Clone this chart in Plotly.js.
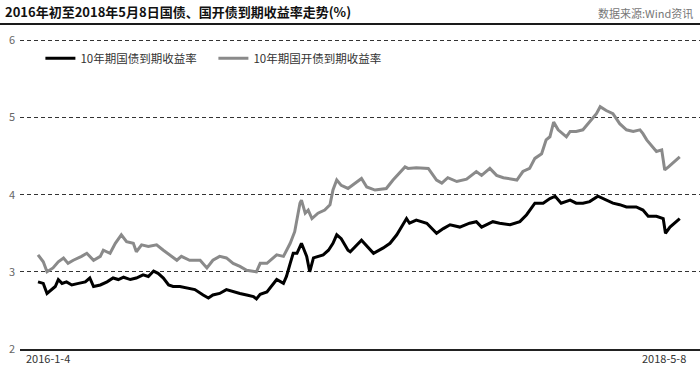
<!DOCTYPE html>
<html>
<head>
<meta charset="utf-8">
<script src="https://cdn.plot.ly/plotly-3.0.1.min.js"></script>
<style>html,body{margin:0;padding:0;background:#fff;}#chart{width:700px;height:371px;}</style>
</head>
<body>
<div id="chart"></div>
<script>
// 10-year government bond yield (%)
const cgbDates = ['2016-01-04','2016-01-11','2016-01-16','2016-01-22','2016-01-27','2016-01-31','2016-02-05','2016-02-11','2016-02-18','2016-02-27',
'2016-03-07','2016-03-13','2016-03-18','2016-03-27','2016-04-05','2016-04-13','2016-04-20','2016-04-27','2016-05-06','2016-05-14',
'2016-05-23','2016-05-30','2016-06-06','2016-06-12','2016-06-19','2016-06-26','2016-07-02','2016-07-11','2016-07-20','2016-07-31',
'2016-08-11','2016-08-18','2016-08-24','2016-09-02','2016-09-11','2016-09-20','2016-09-29','2016-10-08','2016-10-17','2016-10-21',
'2016-10-26','2016-11-04','2016-11-10','2016-11-17','2016-11-26','2016-11-30','2016-12-05','2016-12-09','2016-12-14','2016-12-20',
'2016-12-27','2016-12-31','2017-01-05','2017-01-11','2017-01-18','2017-01-25','2017-01-31','2017-02-05','2017-02-11','2017-02-20',
'2017-02-23','2017-03-10','2017-03-17','2017-03-26','2017-04-08','2017-04-17','2017-04-26','2017-05-09','2017-05-13','2017-05-22',
'2017-06-05','2017-06-18','2017-06-27','2017-07-06','2017-07-19','2017-08-01','2017-08-10','2017-08-17','2017-09-01','2017-09-10',
'2017-09-24','2017-10-07','2017-10-16','2017-10-27','2017-11-07','2017-11-16','2017-11-23','2017-12-01','2017-12-13','2017-12-21',
'2017-12-30','2018-01-08','2018-01-19','2018-01-26','2018-02-08','2018-02-17','2018-02-26','2018-03-11','2018-03-20','2018-03-27',
'2018-04-07','2018-04-16','2018-04-19','2018-04-25','2018-05-01','2018-05-08'];
const cgbYield = [2.87,2.85,2.72,2.77,2.81,2.90,2.85,2.87,2.83,2.85,
2.87,2.92,2.81,2.83,2.87,2.92,2.90,2.93,2.90,2.92,
2.96,2.94,3.01,2.98,2.92,2.83,2.81,2.81,2.79,2.77,
2.70,2.66,2.70,2.72,2.77,2.74,2.72,2.70,2.68,2.65,
2.71,2.74,2.81,2.90,2.85,2.94,3.11,3.24,3.24,3.37,
3.20,3.00,3.18,3.20,3.22,3.28,3.37,3.48,3.43,3.28,
3.26,3.41,3.33,3.24,3.31,3.37,3.48,3.69,3.63,3.67,
3.63,3.50,3.56,3.61,3.58,3.63,3.65,3.58,3.65,3.63,
3.61,3.65,3.74,3.89,3.89,3.95,3.98,3.89,3.93,3.89,
3.89,3.91,3.98,3.95,3.89,3.87,3.84,3.84,3.80,3.72,
3.72,3.69,3.50,3.58,3.63,3.69];

// 10-year China Development Bank bond yield (%)
const cdbDates = ['2016-01-04','2016-01-11','2016-01-16','2016-01-24','2016-01-31','2016-02-07','2016-02-13','2016-02-20','2016-03-02','2016-03-09',
'2016-03-18','2016-03-27','2016-03-31','2016-04-09','2016-04-16','2016-04-24','2016-05-01','2016-05-10','2016-05-14','2016-05-21',
'2016-05-30','2016-06-10','2016-06-19','2016-06-28','2016-07-07','2016-07-13','2016-07-24','2016-08-07','2016-08-16','2016-08-24',
'2016-09-02','2016-09-11','2016-09-20','2016-09-29','2016-10-08','2016-10-21','2016-10-26','2016-11-04','2016-11-17','2016-11-26',
'2016-12-05','2016-12-11','2016-12-18','2016-12-20','2016-12-25','2016-12-29','2017-01-03','2017-01-11','2017-01-20','2017-01-27',
'2017-01-31','2017-02-05','2017-02-11','2017-02-20','2017-03-10','2017-03-17','2017-03-28','2017-04-12','2017-04-21','2017-05-07',
'2017-05-11','2017-05-22','2017-06-07','2017-06-18','2017-06-25','2017-07-03','2017-07-15','2017-07-28','2017-08-10','2017-08-17',
'2017-08-28','2017-09-06','2017-09-15','2017-10-03','2017-10-11','2017-10-20','2017-10-27','2017-11-05','2017-11-11','2017-11-16',
'2017-11-21','2017-11-27','2017-12-08','2017-12-13','2017-12-21','2017-12-30','2018-01-06','2018-01-17','2018-01-22','2018-01-30',
'2018-02-08','2018-02-17','2018-02-26','2018-03-07','2018-03-16','2018-03-20','2018-03-25','2018-03-31','2018-04-07','2018-04-14',
'2018-04-18','2018-04-23','2018-05-01','2018-05-08'];
const cdbYield = [3.22,3.13,3.00,3.05,3.13,3.18,3.11,3.15,3.20,3.24,
3.15,3.20,3.28,3.24,3.37,3.48,3.39,3.37,3.26,3.35,
3.33,3.35,3.28,3.22,3.15,3.20,3.15,3.15,3.05,3.15,
3.20,3.18,3.11,3.07,3.02,3.00,3.11,3.11,3.22,3.20,
3.37,3.52,3.89,3.93,3.76,3.80,3.69,3.76,3.80,3.87,
4.06,4.19,4.12,4.08,4.21,4.10,4.06,4.08,4.19,4.36,
4.34,4.35,4.34,4.19,4.15,4.22,4.17,4.20,4.30,4.25,
4.34,4.25,4.22,4.19,4.30,4.34,4.47,4.53,4.71,4.75,
4.94,4.84,4.75,4.82,4.82,4.84,4.92,5.05,5.14,5.09,
5.05,4.92,4.84,4.82,4.84,4.79,4.71,4.64,4.56,4.58,
4.32,4.36,4.43,4.49];

const seriesNames = ['10年期国债到期收益率', '10年期国开债到期收益率'];
const yTicks = [2, 3, 4, 5, 6];
const xLabels = ['2016-1-4', '2018-5-8'];
const titleText = '2016年初至2018年5月8日国债、国开债到期收益率走势(%)';
const sourceText = '数据来源:Wind资讯';

const FONT = '"Noto Sans CJK SC", "Noto Sans", sans-serif';

const traces = [
  {x: cgbDates, y: cgbYield, type: 'scatter', mode: 'lines', name: seriesNames[0],
   line: {color: '#000000', width: 3}},
  {x: cdbDates, y: cdbYield, type: 'scatter', mode: 'lines', name: seriesNames[1],
   line: {color: '#8a8a8a', width: 3}}
];

const layout = {
  width: 700, height: 371,
  margin: {l: 20, r: 0, t: 38, b: 22},
  paper_bgcolor: '#ffffff', plot_bgcolor: '#ffffff',
  font: {family: FONT, size: 11, color: '#444'},
  title: {text: titleText, font: {family: FONT, size: 13, color: '#111', weight: 'bold'},
          xref: 'container', yref: 'container', x: 5/700, xanchor: 'left', y: 1 - 12.5/371, yanchor: 'middle'},
  showlegend: true,
  legend: {orientation: 'h', x: 0.03, xanchor: 'left', y: 0.935, yanchor: 'middle', entrywidth: 128,
           bgcolor: 'rgba(0,0,0,0)', font: {family: FONT, size: 11.5, color: '#333'}, itemwidth: 30},
  xaxis: {type: 'date', range: ['2015-12-11', '2018-06-04'], showgrid: false, zeroline: false,
          showticklabels: false, ticks: '', showline: true, linecolor: '#222', linewidth: 2, fixedrange: true},
  yaxis: {range: [2, 6.03], tickvals: yTicks, ticktext: yTicks.map(String), showgrid: true,
          gridcolor: '#333', gridwidth: 1, griddash: '4px,3px', zeroline: false, showline: false,
          ticks: '', ticklabelstandoff: 4, tickfont: {family: FONT, size: 11, color: '#666'}, fixedrange: true},
  shapes: [
    {type: 'line', xref: 'paper', yref: 'paper', x0: -20/680, x1: 1, y0: 1 + 14/311, y1: 1 + 14/311,
     line: {color: '#1a1a1a', width: 2}}
  ],
  annotations: [
    {text: sourceText, xref: 'paper', yref: 'paper', x: 1 - 5/680, xanchor: 'right', y: 1 + 25/311, yanchor: 'middle',
     showarrow: false, font: {family: FONT, size: 11, color: '#777'}},
    {text: xLabels[0], xref: 'paper', yref: 'paper', x: 4/680, xanchor: 'left', y: -9/311, yanchor: 'middle',
     showarrow: false, font: {family: FONT, size: 11, color: '#333'}},
    {text: xLabels[1], xref: 'paper', yref: 'paper', x: 1 - 12/680, xanchor: 'right', y: -9/311, yanchor: 'middle',
     showarrow: false, font: {family: FONT, size: 11, color: '#333'}}
  ]
};

Plotly.newPlot('chart', traces, layout, {displayModeBar: false, staticPlot: true});
</script>
</body>
</html>
